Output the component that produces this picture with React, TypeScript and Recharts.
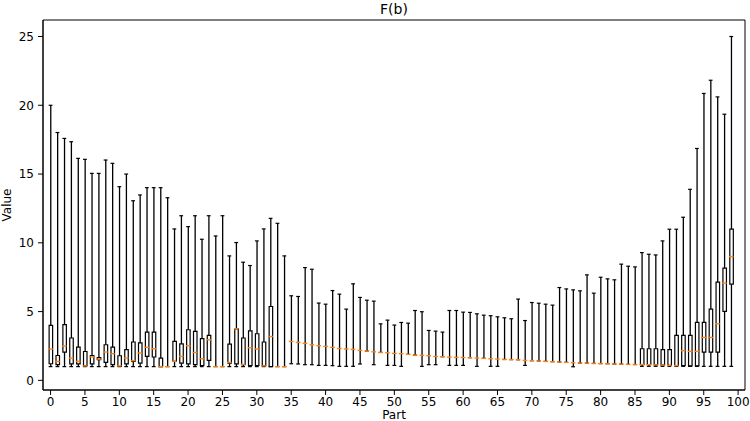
import { ComposedChart, Bar, Scatter, XAxis, YAxis, ReferenceArea } from "recharts"

// parts 0..99
const parts = Array.from({ length: 100 }, (_, i) => i)

const whiskerHigh = [
  20.0, 18.02, 17.59, 17.35, 16.14, 16.07, 15.05, 15.05, 16.02, 15.78,
  14.08, 15.0, 13.06, 13.48, 14.01, 14.01, 14.01, 13.28, 11.01, 11.97,
  11.18, 11.97, 10.26, 11.97, 10.5, 11.97, 9.05, 10.02, 8.59, 8.35,
  10.14, 11.01, 11.78, 11.42, 9.05, 6.15, 6.1, 8.2, 8.08, 5.62,
  5.54, 6.53, 6.27, 5.18, 7.02, 6.03, 5.83, 5.76, 4.11, 4.38,
  4.02, 4.21, 4.16, 5.08, 4.99, 3.63, 3.58, 3.51, 5.08, 5.08,
  4.96, 4.94, 4.84, 4.74, 4.7, 4.62, 4.55, 4.48, 5.91, 4.35,
  5.66, 5.61, 5.54, 5.47, 6.75, 6.65, 6.58, 6.51, 7.67, 6.34,
  7.5, 7.38, 7.31, 8.45, 8.3, 8.25, 9.29, 9.17, 9.12, 10.14,
  10.99, 10.99, 11.86, 13.89, 16.86, 20.86, 21.82, 20.61, 19.35, 25.0,
]

const q3 = [
  4.0, 1.81, 4.06, 3.08, 2.42, 2.1, 1.81, 1.65, 2.59, 2.42,
  1.79, 2.23, 2.79, 2.72, 3.51, 3.51, 1.62, 1.0, 2.83, 2.66,
  3.68, 3.56, 3.03, 3.27, 1.0, 1.0, 2.64, 3.75, 3.08, 3.6,
  3.39, 2.79, 5.37, 1.0, 1.0, 2.83, 2.76, 2.69, 2.59, 2.52,
  2.47, 2.4, 2.32, 2.28, 2.25, 2.18, 2.13, 2.08, 2.03, 2.01,
  1.96, 1.94, 1.89, 1.84, 1.82, 1.79, 1.74, 1.72, 1.69, 1.67,
  1.66, 1.65, 1.62, 1.6, 1.57, 1.55, 1.52, 1.51, 1.5, 1.45,
  1.43, 1.41, 1.38, 1.36, 1.33, 1.31, 1.28, 1.26, 1.25, 1.23,
  1.22, 1.21, 1.19, 1.18, 1.16, 1.15, 2.3, 2.3, 2.3, 2.23,
  2.23, 3.27, 3.27, 3.27, 4.21, 4.21, 5.18, 7.14, 8.16, 10.99,
]

const median = [
  2.28, 1.38, 2.5, 1.62, 1.38, 1.05, 1.7, 1.55, 2.06, 1.94,
  1.05, 1.62, 1.43, 1.99, 2.4, 2.3, 1.0, 1.0, 1.38, 1.74,
  2.52, 2.03, 1.57, 2.95, 1.0, 1.0, 1.3, 3.75, 1.16, 2.37,
  2.28, 1.05, 3.19, 1.0, 1.0, 2.83, 2.76, 2.69, 2.59, 2.52,
  2.47, 2.4, 2.32, 2.28, 2.25, 2.18, 2.13, 2.08, 2.03, 2.01,
  1.96, 1.94, 1.89, 1.84, 1.82, 1.79, 1.74, 1.72, 1.69, 1.67,
  1.66, 1.65, 1.62, 1.6, 1.57, 1.55, 1.52, 1.51, 1.5, 1.45,
  1.43, 1.41, 1.38, 1.36, 1.33, 1.31, 1.28, 1.26, 1.25, 1.23,
  1.22, 1.21, 1.19, 1.18, 1.16, 1.15, 1.15, 1.14, 1.13, 1.11,
  1.09, 1.07, 2.16, 2.11, 2.11, 3.12, 3.12, 4.11, 7.07, 9.0,
]

const q1 = [
  1.21, 1.14, 2.06, 1.2, 1.2, 1.05, 1.2, 1.5, 1.31, 1.14,
  1.01, 1.2, 1.38, 1.25, 1.74, 1.7, 1.0, 1.0, 1.38, 1.25,
  1.2, 1.14, 1.08, 1.45, 1.0, 1.0, 1.25, 1.2, 1.14, 1.08,
  1.08, 1.05, 1.0, 1.0, 1.0, 2.83, 2.76, 2.69, 2.59, 2.52,
  2.47, 2.4, 2.32, 2.28, 2.25, 2.18, 2.13, 2.08, 2.03, 2.01,
  1.96, 1.94, 1.89, 1.84, 1.82, 1.79, 1.74, 1.72, 1.69, 1.67,
  1.66, 1.65, 1.62, 1.6, 1.57, 1.55, 1.52, 1.51, 1.5, 1.45,
  1.43, 1.41, 1.38, 1.36, 1.33, 1.31, 1.28, 1.26, 1.25, 1.23,
  1.22, 1.21, 1.19, 1.18, 1.16, 1.15, 1.15, 1.14, 1.13, 1.11,
  1.09, 1.07, 1.07, 1.05, 1.05, 2.06, 2.06, 2.06, 5.01, 7.0,
]

const whiskerLow = [
  1.0, 1.0, 1.0, 1.0, 1.0, 1.0, 1.0, 1.0, 1.0, 1.0,
  1.0, 1.0, 1.0, 1.0, 1.0, 1.0, 1.0, 1.0, 1.0, 1.0,
  1.0, 1.0, 1.0, 1.0, 1.0, 1.0, 1.0, 1.0, 1.0, 1.0,
  1.0, 1.0, 1.0, 1.0, 1.0, 1.21, 1.19, 1.14, 1.14, 1.09,
  1.09, 1.07, 1.02, 1.02, 1.02, 1.19, 2.13, 1.14, 2.03, 1.09,
  1.09, 1.02, 1.89, 1.84, 1.02, 1.14, 1.14, 1.72, 1.09, 1.09,
  1.09, 1.65, 1.02, 1.6, 1.02, 1.02, 1.52, 1.51, 1.5, 1.09,
  1.43, 1.41, 1.38, 1.36, 1.33, 1.31, 0.99, 1.26, 1.25, 1.23,
  1.22, 1.21, 1.19, 1.18, 1.16, 1.15, 1.02, 1.02, 1.02, 1.02,
  1.02, 1.02, 1.02, 1.02, 1.02, 1.02, 1.02, 1.02, 1.02, 1.02,
]

const xTicks = [0, 5, 10, 15, 20, 25, 30, 35, 40, 45, 50, 55, 60, 65, 70, 75, 80, 85, 90, 95, 100]
const yTicks = [0, 5, 10, 15, 20, 25]

const X_DOMAIN = [-1.1, 101]
const Y_DOMAIN = [-0.7, 26.2]

const rows = parts.map((p, i) => ({
  part: p,
  low: whiskerLow[i],
  q1: q1[i],
  med: median[i],
  q3: q3[i],
  high: whiskerHigh[i],
  lowSeg: q1[i] - whiskerLow[i],
  gap: q3[i] - q1[i],
  highSeg: whiskerHigh[i] - q3[i],
}))

const Cap = (props: any) => {
  const { cx, cy } = props
  if (cx == null || cy == null) return <g />
  return <line x1={cx - 1.9} x2={cx + 1.9} y1={cy} y2={cy} stroke="#000" strokeWidth={1.2} />
}

const MedianMark = (props: any) => {
  const { cx, cy } = props
  if (cx == null || cy == null) return <g />
  return <line x1={cx - 2.3} x2={cx + 2.3} y1={cy} y2={cy} stroke="#ff7f0e" strokeWidth={1.4} />
}

const tickStyle = { fontSize: 12, fill: "#000" }

export default function App() {
  return (
    <div style={{ position: "absolute", left: 0, top: 0, width: 750, height: 421, fontFamily: "'DejaVu Sans', sans-serif" }}>
      <div style={{ position: "absolute", left: 43, top: 0, width: 702, textAlign: "center", fontSize: 14, lineHeight: "18px", color: "#000" }}>
        F(b)
      </div>
      <ComposedChart width={750} height={421} data={rows} margin={{ top: 20, right: 5, bottom: 0, left: 0 }}>
        <XAxis
          xAxisId="main"
          dataKey="part"
          type="number"
          domain={X_DOMAIN}
          ticks={xTicks}
          allowDataOverflow
          height={31}
          tick={tickStyle}
          tickSize={5}
          tickMargin={2}
          stroke="#000"
          label={{ value: "Part", position: "insideBottom", offset: 2, style: { fontSize: 12, fill: "#000" } }}
        />
        <XAxis xAxisId="w" dataKey="part" type="number" domain={X_DOMAIN} allowDataOverflow hide />
        <YAxis
          type="number"
          domain={Y_DOMAIN}
          ticks={yTicks}
          allowDataOverflow
          width={43}
          tick={tickStyle}
          tickSize={5}
          tickMargin={4}
          stroke="#000"
          label={{ value: "Value", angle: -90, position: "insideLeft", offset: 7, style: { textAnchor: "middle", fontSize: 12, fill: "#000" } }}
        />
        <ReferenceArea
          xAxisId="main"
          x1={X_DOMAIN[0]}
          x2={X_DOMAIN[1]}
          y1={Y_DOMAIN[0]}
          y2={Y_DOMAIN[1]}
          fill="none"
          fillOpacity={0}
          stroke="#000"
          strokeWidth={1}
          ifOverflow="visible"
        />
        {/* whiskers */}
        <Bar xAxisId="w" dataKey="low" stackId="wh" barSize={1.3} fill="transparent" isAnimationActive={false} />
        <Bar xAxisId="w" dataKey="lowSeg" stackId="wh" barSize={1.3} fill="#000" isAnimationActive={false} />
        <Bar xAxisId="w" dataKey="gap" stackId="wh" barSize={1.3} fill="transparent" isAnimationActive={false} />
        <Bar xAxisId="w" dataKey="highSeg" stackId="wh" barSize={1.3} fill="#000" isAnimationActive={false} />
        {/* boxes */}
        <Bar xAxisId="main" dataKey="q1" stackId="box" barSize={3.5} fill="transparent" isAnimationActive={false} />
        <Bar xAxisId="main" dataKey="gap" stackId="box" barSize={3.5} fill="#fff" stroke="#000" strokeWidth={1.2} isAnimationActive={false} />
        {/* caps and medians */}
        <Scatter xAxisId="main" dataKey="high" shape={Cap} isAnimationActive={false} />
        <Scatter xAxisId="main" dataKey="low" shape={Cap} isAnimationActive={false} />
        <Scatter xAxisId="main" dataKey="med" shape={MedianMark} isAnimationActive={false} />
      </ComposedChart>
    </div>
  )
}
